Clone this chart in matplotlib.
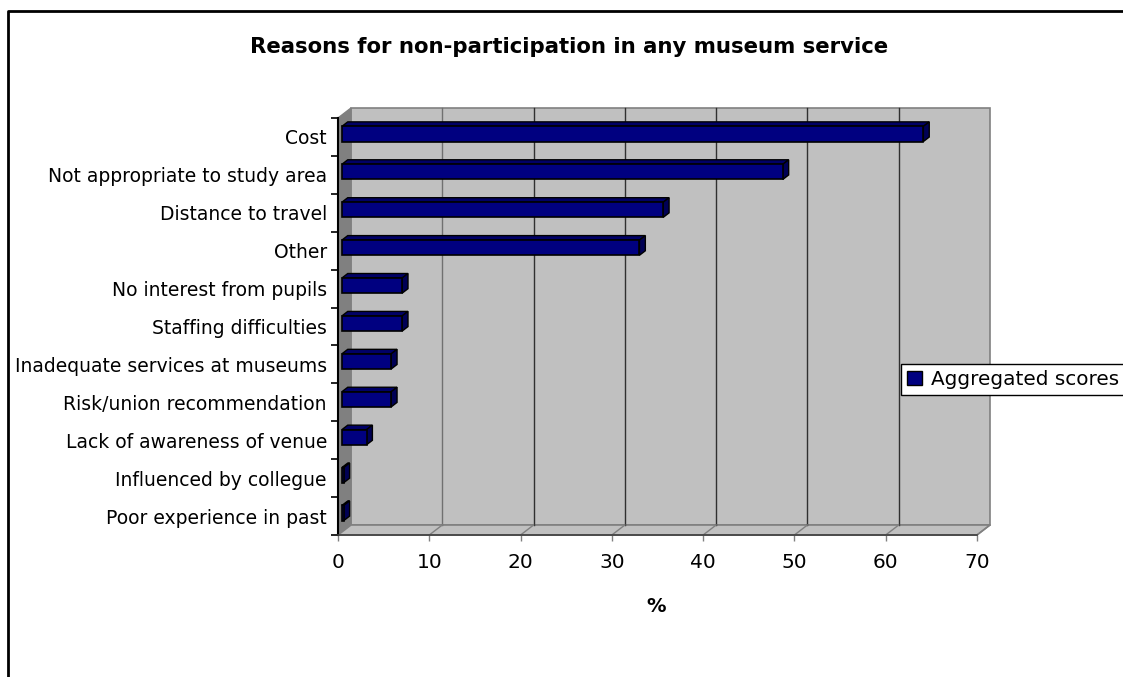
import matplotlib
matplotlib.use('Agg')
import matplotlib.pyplot as plt
from matplotlib.patches import Polygon, Patch
from matplotlib.lines import Line2D
from matplotlib.transforms import IdentityTransform, Affine2D

reasons = ['Cost', 'Not appropriate to study area', 'Distance to travel', 'Other',
           'No interest from pupils', 'Staffing difficulties',
           'Inadequate services at museums', 'Risk/union recommendation',
           'Lack of awareness of venue', 'Influenced by collegue',
           'Poor experience in past']
scores = [63.7, 48.3, 35.2, 32.6, 6.6, 6.6, 5.4, 5.4, 2.7, 0.2, 0.2]
xticks = [0, 10, 20, 30, 40, 50, 60, 70]

W, H = 1123, 677
DX, DY = 13, 10          # depth of the walls, in pixels
BAR_Z0, BAR_Z1 = 0.3, 0.75   # bar front/back as a fraction of the depth
HALF = 0.2               # half bar thickness, in category units

FONT = 'DejaVu Sans'
fig = plt.figure(figsize=(W / 100, H / 100), dpi=100)
ax = fig.add_axes([338 / W, 142 / H, 639 / W, 417 / H])
n = len(reasons)
ax.set_xlim(0, 70)
ax.set_ylim(n - 0.5, -0.5)
ax.patch.set_visible(False)

def px(x, y, d=0.0):
    X, Y = ax.transData.transform((x, y))
    return (X + d * DX, Y + d * DY)

def face(pts, fc, ec, lw=1.0, z=1):
    p = Polygon(pts, closed=True, facecolor=fc, edgecolor=ec, linewidth=lw,
                transform=IdentityTransform(), zorder=z, clip_on=False)
    ax.add_patch(p)

bottom, top = n - 0.5, -0.5
# back wall, side wall and floor
face([px(0, bottom, 1), px(70, bottom, 1), px(70, top, 1), px(0, top, 1)],
     '#C0C0C0', '#808080', 1.2, 0)
face([px(0, bottom), px(0, top), px(0, top, 1), px(0, bottom, 1)],
     '#808080', '#808080', 1.0, 0)
face([px(0, bottom), px(70, bottom), px(70, bottom, 1), px(0, bottom, 1)],
     '#C0C0C0', '#808080', 1.2, 0)
for t in xticks[1:-1]:
    a, b = px(t, bottom, 1), px(t, top, 1)
    ax.add_line(Line2D([a[0], b[0]], [a[1], b[1]],
                       color='#707070' if t == 10 else '#303030', lw=1.0,
                       transform=IdentityTransform(), zorder=0.5, clip_on=False))
for t in xticks[1:]:
    a, b = px(t, bottom), px(t, bottom, 1)
    ax.add_line(Line2D([a[0], b[0]], [a[1], b[1]], color='#808080', lw=1.0,
                       transform=IdentityTransform(), zorder=0.5, clip_on=False))

# bars: front face through barh, top and side faces as polygons
shift = Affine2D().translate(BAR_Z0 * DX, BAR_Z0 * DY)
ax.barh(range(n), scores, height=2 * HALF, color='#000080', edgecolor='black',
        linewidth=1.2, transform=ax.transData + shift, zorder=3, clip_on=False)
for i, v in enumerate(scores):
    face([px(0, i - HALF, BAR_Z0), px(v, i - HALF, BAR_Z0),
          px(v, i - HALF, BAR_Z1), px(0, i - HALF, BAR_Z1)],
         '#000066', 'black', 1.0, 2.5)
    face([px(v, i - HALF, BAR_Z0), px(v, i + HALF, BAR_Z0),
          px(v, i + HALF, BAR_Z1), px(v, i - HALF, BAR_Z1)],
         '#000055', 'black', 1.0, 2.5)

# axes
for s in ['top', 'right']:
    ax.spines[s].set_visible(False)
ax.spines['left'].set_color('black')
ax.spines['left'].set_linewidth(1.5)
ax.spines['bottom'].set_color('#404040')
ax.spines['bottom'].set_linewidth(1.2)
ax.set_yticks(range(n))
ax.set_yticklabels(reasons, fontsize=13.5, family=FONT)
ax.set_yticks([i + 0.5 for i in range(-1, n)], minor=True)
ax.tick_params(axis='y', which='major', length=0, pad=8)
ax.tick_params(axis='y', which='minor', length=5, width=1.2, color='black')
ax.set_xticks(xticks)
ax.set_xticklabels([str(t) for t in xticks], fontsize=14.5, family=FONT)
ax.tick_params(axis='x', length=4.5, width=1.0, color='#808080', pad=8.5)

fig.text(569 / W, 1 - 47 / H, 'Reasons for non-participation in any museum service',
         ha='center', va='center', fontsize=15.3, fontweight='bold', family=FONT)
fig.text(656 / W, 1 - 606 / H, '%', ha='center', va='center', fontsize=14,
         fontweight='bold', family=FONT)

leg = fig.legend(handles=[Patch(facecolor='#000080', edgecolor='black')],
                 labels=['Aggregated scores'], loc='upper left',
                 bbox_to_anchor=(901 / W, 1 - 364 / H), fancybox=False,
                 edgecolor='black', framealpha=1, borderaxespad=0,
                 handlelength=0.75, handleheight=0.75, handletextpad=0.45,
                 borderpad=0.3, prop={'family': FONT, 'size': 14.4})
leg.get_frame().set_linewidth(1.0)
leg.set_zorder(10)

# chart frame, running off the right and bottom edges
fig.add_artist(Line2D([8 / W, 8 / W, 1.01], [-0.01, 1 - 11 / H, 1 - 11 / H],
                      color='black', lw=2.0, transform=fig.transFigure))

fig.savefig('out.png', dpi=100)
